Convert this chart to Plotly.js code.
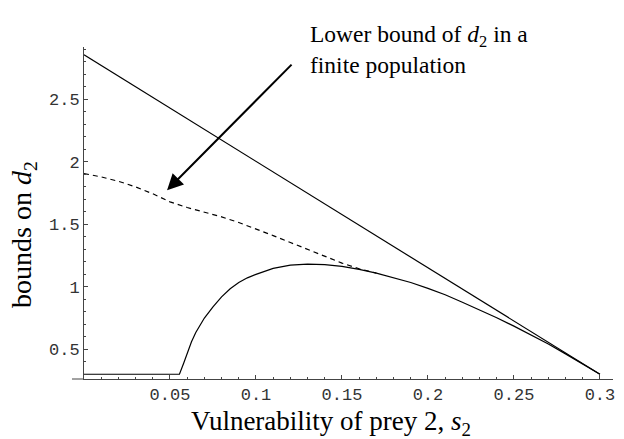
<!DOCTYPE html>
<html>
<head>
<meta charset="utf-8">
<script src="https://cdn.plot.ly/plotly-3.0.1.min.js"></script>
<style>html,body{margin:0;padding:0;background:#fff;}#chart{width:624px;height:439px;}</style>
</head>
<body>
<div id="chart"></div>
<script>
// Upper bound (straight line)
const upperX = [0, 0.3];
const upperY = [2.857, 0.3];

// Lower bound, infinite population (solid curve)
const lowerX = [0, 0.0555, 0.058, 0.06, 0.0625, 0.065, 0.0675, 0.07, 0.075, 0.08, 0.085, 0.09, 0.095, 0.10,
                0.11, 0.12, 0.13, 0.14, 0.15, 0.16, 0.17, 0.18, 0.19, 0.20, 0.21, 0.22, 0.23, 0.24,
                0.25, 0.26, 0.27, 0.28, 0.29, 0.30];
const lowerY = [0.3, 0.3, 0.39, 0.47, 0.56, 0.635, 0.695, 0.75, 0.84, 0.92, 0.985, 1.035, 1.072, 1.10,
                1.148, 1.173, 1.182, 1.177, 1.163, 1.14, 1.11, 1.075, 1.035, 0.988, 0.936, 0.877, 0.816, 0.752,
                0.685, 0.615, 0.542, 0.463, 0.383, 0.3];

// Lower bound, finite population (dashed curve)
const dashX = [0, 0.01, 0.02, 0.03, 0.04, 0.05, 0.06, 0.07, 0.08, 0.09, 0.10, 0.11, 0.12, 0.13, 0.14, 0.15, 0.16, 0.17];
const dashY = [1.907, 1.88, 1.845, 1.80, 1.745, 1.68, 1.635, 1.60, 1.56, 1.515, 1.465, 1.41, 1.355, 1.298, 1.243, 1.19, 1.145, 1.11];

// Tick labels
const xTickVals = [0.05, 0.1, 0.15, 0.2, 0.25, 0.3];
const xTickText = ["0.05", "0.1", "0.15", "0.2", "0.25", "0.3"];
const yTickVals = [0.5, 1, 1.5, 2, 2.5];
const yTickText = ["0.5", "1", "1.5", "2", "2.5"];

// Texts
const xTitle = "Vulnerability of prey 2, <i>s</i><sub>2</sub>";
const yTitle = "bounds on <i>d</i><sub>2</sub>";
const noteText = "Lower bound of <i>d</i><sub>2</sub> in a<br>finite population";
const arrowTip = [0.0483, 1.774];

const lineStyle = {color: "#000", width: 1.2};

const traces = [
  {x: upperX, y: upperY, mode: "lines", line: lineStyle, hoverinfo: "skip"},
  {x: dashX, y: dashY, mode: "lines", line: {color: "#000", width: 1.2, dash: "5px,4px"}, hoverinfo: "skip"},
  {x: lowerX, y: lowerY, mode: "lines", line: lineStyle, hoverinfo: "skip"}
];

const tickFont = {family: "Liberation Mono, Courier New, monospace", size: 17, color: "#333"};
const serif = "Liberation Serif, Times New Roman, serif";

const layout = {
  width: 624, height: 439,
  margin: {l: 84, r: 11, t: 47, b: 60},
  paper_bgcolor: "#fff", plot_bgcolor: "#fff",
  showlegend: false,
  xaxis: {
    range: [0, 0.3076], showgrid: false, zeroline: false,
    showline: true, linecolor: "#444", linewidth: 1,
    tickmode: "array", tickvals: xTickVals, ticktext: xTickText,
    ticks: "inside", ticklen: 4, tickcolor: "#444", tickwidth: 1,
    minor: {tickmode: "linear", tick0: 0, dtick: 0.01, ticks: "inside", ticklen: 2, tickcolor: "#444"},
    tickfont: tickFont
  },
  yaxis: {
    range: [0.262, 2.92], showgrid: false, zeroline: false,
    showline: true, linecolor: "#444", linewidth: 1,
    tickmode: "array", tickvals: yTickVals, ticktext: yTickText,
    ticks: "inside", ticklen: 4, tickcolor: "#444", tickwidth: 1,
    minor: {tickmode: "linear", tick0: 0, dtick: 0.1, ticks: "inside", ticklen: 2, tickcolor: "#444"},
    tickfont: tickFont
  },
  shapes: [
    {type: "line", xref: "paper", yref: "paper", x0: -0.0227, x1: 0, y0: 0, y1: 0,
     line: {color: "#444", width: 1}}
  ],
  annotations: [
    {text: xTitle, xref: "paper", yref: "paper", x: 0.467, y: -0.132,
     xanchor: "center", yanchor: "middle", showarrow: false,
     font: {family: serif, size: 27, color: "#000"}},
    {text: yTitle, xref: "paper", yref: "paper", x: -0.1134, y: 0.434,
     xanchor: "center", yanchor: "middle", showarrow: false, textangle: -90,
     font: {family: serif, size: 28, color: "#000"}},
    {text: noteText, xref: "paper", yref: "paper", x: 0.4234, y: 1.085,
     xanchor: "left", yanchor: "top", align: "left", showarrow: false,
     font: {family: serif, size: 23.5, color: "#000"}},
    {text: "", x: arrowTip[0], y: arrowTip[1], xref: "x", yref: "y",
     showarrow: true, ax: 126, ay: -127, arrowhead: 2, arrowsize: 1.6, arrowwidth: 2,
     arrowcolor: "#000", standoff: 0, startstandoff: 0}
  ]
};

Plotly.newPlot("chart", traces, layout, {displayModeBar: false, staticPlot: true});
</script>
</body>
</html>
